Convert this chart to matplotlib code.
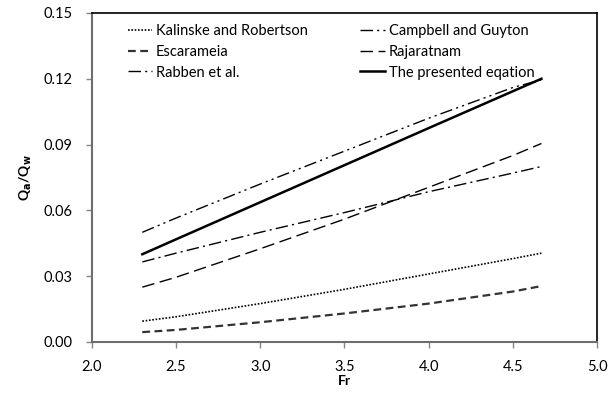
import matplotlib
matplotlib.use("Agg")
import matplotlib.pyplot as plt

plt.rcParams['font.family'] = ['Lato', 'DejaVu Sans']

fr = [2.3, 2.5, 3.0, 3.5, 4.0, 4.5, 4.67]
kalinske = [0.0095, 0.0115, 0.0175, 0.0240, 0.0310, 0.0380, 0.0405]
escarameia = [0.0045, 0.0055, 0.0090, 0.0130, 0.0175, 0.0230, 0.0255]
rabben = [0.0365, 0.0405, 0.0500, 0.0590, 0.0685, 0.0770, 0.0800]
campbell = [0.0500, 0.0565, 0.0720, 0.0870, 0.1020, 0.1160, 0.1195]
rajaratnam = [0.0250, 0.0295, 0.0425, 0.0560, 0.0705, 0.0850, 0.0905]
presented = [0.0400, 0.0468, 0.0637, 0.0806, 0.0975, 0.1143, 0.1200]

labels = ["Kalinske and Robertson", "Escarameia", "Rabben et al.",
          "Campbell and Guyton", "Rajaratnam", "The presented eqation"]

fig = plt.figure(figsize=(6.12, 3.93), dpi=100)
ax = fig.add_axes([0.150, 0.1298, 0.8255, 0.8372])

ax.plot(fr, kalinske, color='black', lw=1.2, linestyle=(0, (1, 1)), label=labels[0])
ax.plot(fr, escarameia, color='#333333', lw=1.6, linestyle=(0, (3.5, 2)), label=labels[1])
ax.plot(fr, rabben, color='black', lw=1.0, linestyle=(0, (9, 3, 1.5, 3)), label=labels[2])
ax.plot(fr, campbell, color='black', lw=1.0, linestyle=(0, (9, 3, 1.5, 3, 1.5, 3)), label=labels[3])
ax.plot(fr, rajaratnam, color='black', lw=1.0, linestyle=(0, (9, 4)), label=labels[4])
ax.plot(fr, presented, color='black', lw=1.8, linestyle='-', label=labels[5])

ax.set_xlim(2.0, 5.0)
ax.set_ylim(0.0, 0.15)
ax.set_xticks([2.0, 2.5, 3.0, 3.5, 4.0, 4.5, 5.0])
ax.set_yticks([0.0, 0.03, 0.06, 0.09, 0.12, 0.15])
ax.set_xticklabels([f"{v:.1f}" for v in [2.0, 2.5, 3.0, 3.5, 4.0, 4.5, 5.0]])
ax.set_yticklabels([f"{v:.2f}" for v in [0.0, 0.03, 0.06, 0.09, 0.12, 0.15]])
ax.tick_params(axis='both', labelsize=10.5, direction='out', length=4, color='#868686', width=1)
ax.tick_params(axis='x', pad=9)
ax.tick_params(axis='y', pad=10)

for s in ['left', 'bottom']:
    ax.spines[s].set_color('#6e6e6e')
    ax.spines[s].set_linewidth(1.5)
for s in ['top', 'right']:
    ax.spines[s].set_color('black')
    ax.spines[s].set_linewidth(1.2)

ax.set_xlabel("Fr", fontsize=10, fontweight='bold', labelpad=1)
ax.set_ylabel(r"Q$_\mathbf{a}$/Q$_\mathbf{w}$", fontsize=10, fontweight='bold', labelpad=7)

ax.legend(ncol=2, loc='upper left', bbox_to_anchor=(0.045, 1.005), frameon=False,
          fontsize=10.5, handlelength=1.7, handletextpad=0.25, columnspacing=3.6,
          labelspacing=0.45)

fig.savefig("out.png", dpi=100)
